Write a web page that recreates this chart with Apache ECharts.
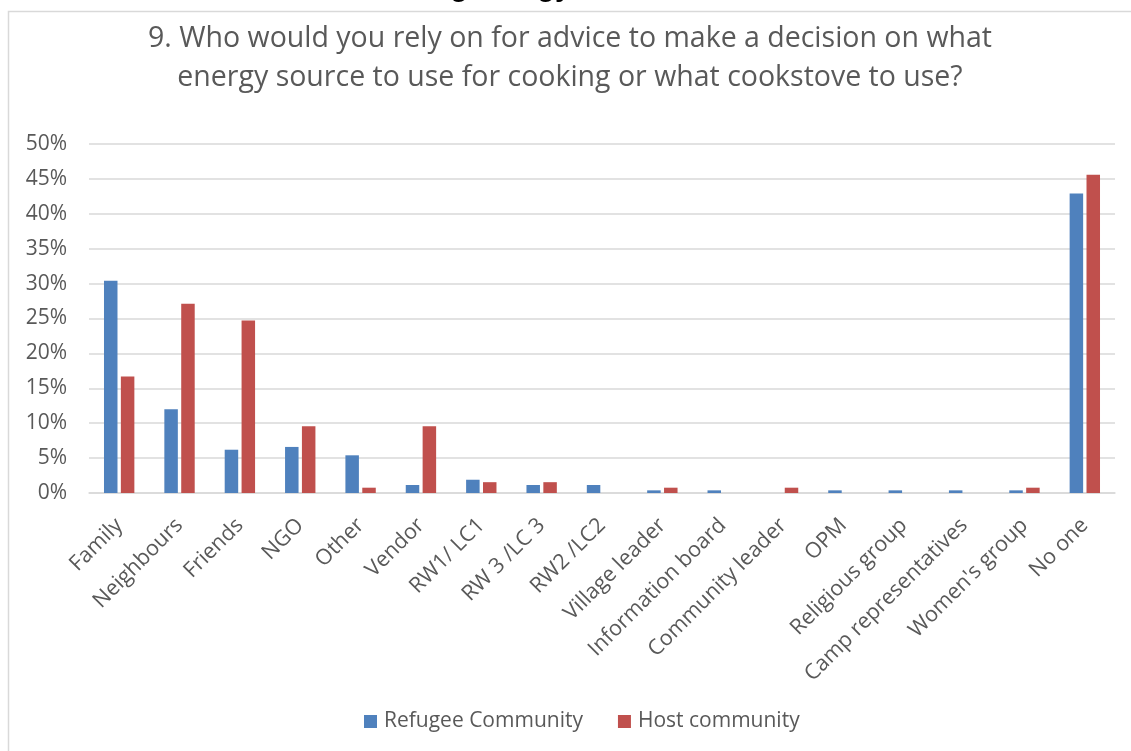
<!DOCTYPE html>
<html>
<head>
<meta charset="utf-8">
<script src="https://cdn.jsdelivr.net/npm/echarts@6/dist/echarts.min.js"></script>
<style>
  html, body { margin: 0; padding: 0; background: #fff; }
  #chart { width: 1131px; height: 751px; }
</style>
</head>
<body>
<div id="chart"></div>
<script>
// Answer categories along the x axis
const categories = [
  'Family', 'Neighbours', 'Friends', 'NGO', 'Other', 'Vendor',
  'RW1/ LC1', 'RW 3 /LC 3', 'RW2 /LC2', 'Village leader',
  'Information board', 'Community leader', 'OPM', 'Religious group',
  'Camp representatives', "Women's group", 'No one'
];

// Share of respondents (percent) per answer
const refugeeValues = [30.4, 12.0, 6.2, 6.6, 5.4, 1.15, 1.9, 1.15, 1.15, 0.38, 0.38, 0, 0.38, 0.38, 0.38, 0.38, 42.9];
const hostValues    = [16.7, 27.1, 24.7, 9.55, 0.76, 9.55, 1.55, 1.55, 0, 0.76, 0, 0.76, 0, 0, 0, 0.76, 45.6];

const seriesNames = ['Refugee Community', 'Host community'];
const yTicks = { min: 0, max: 50, interval: 5 };

const chart = echarts.init(document.getElementById('chart'), null, { renderer: 'canvas' });

const labelFont = '"Open Sans", "Liberation Sans", sans-serif';
const titleFont = '28.5px "Open Sans", sans-serif';

chart.setOption({
  animation: false,
  backgroundColor: '#ffffff',
  color: ['#4f81bd', '#c0504d'],
  graphic: [
    {
      type: 'rect',
      shape: { x: 8.5, y: 11.5, width: 1200, height: 800 },
      style: { fill: 'none', stroke: '#d9d9d9', lineWidth: 1.5 },
      z: 0
    },
    {
      // heading above the chart frame, mostly outside the page
      type: 'text',
      left: 352,
      top: -27,
      style: {
        text: 'Cooking energy',
        font: 'bold 29px "Liberation Sans", sans-serif',
        fill: '#000000'
      },
      z: 1
    },
    {
      type: 'text',
      x: 570,
      y: 39,
      style: {
        text: '9. Who would you rely on for advice to make a decision on what',
        font: titleFont,
        fill: '#595959',
        align: 'center',
        verticalAlign: 'middle'
      },
      z: 2
    },
    {
      type: 'text',
      x: 570,
      y: 78,
      style: {
        text: 'energy source to use for cooking or what cookstove to use?',
        font: titleFont,
        fill: '#595959',
        align: 'center',
        verticalAlign: 'middle'
      },
      z: 2
    }
  ],
  legend: {
    data: seriesNames,
    bottom: 19,
    left: 364,
    padding: 0,
    icon: 'rect',
    itemWidth: 13,
    itemHeight: 13,
    itemGap: 35,
    textStyle: { fontSize: 21, color: '#595959', fontFamily: labelFont, padding: [0, 0, 0, 2] }
  },
  grid: { left: 89, right: 16, top: 144, bottom: 258, containLabel: false },
  xAxis: {
    type: 'category',
    data: categories,
    axisLine: { lineStyle: { color: '#d9d9d9', width: 1.5 } },
    axisTick: { show: false },
    axisLabel: {
      rotate: 45,
      interval: 0,
      margin: 29,
      fontSize: 21.5,
      color: '#595959',
      fontFamily: labelFont
    }
  },
  yAxis: {
    type: 'value',
    min: yTicks.min,
    max: yTicks.max,
    interval: yTicks.interval,
    axisLine: { show: false },
    axisTick: { show: false },
    splitLine: { lineStyle: { color: '#d9d9d9', width: 1.5 } },
    axisLabel: {
      formatter: v => v + '%',
      fontSize: 21,
      color: '#595959',
      fontFamily: labelFont,
      margin: 22
    }
  },
  series: [
    {
      name: seriesNames[0],
      type: 'bar',
      data: refugeeValues,
      barWidth: 13.5,
      barGap: '25%'
    },
    {
      name: seriesNames[1],
      type: 'bar',
      data: hostValues,
      barWidth: 13.5,
      barGap: '25%'
    }
  ]
});
</script>
</body>
</html>
